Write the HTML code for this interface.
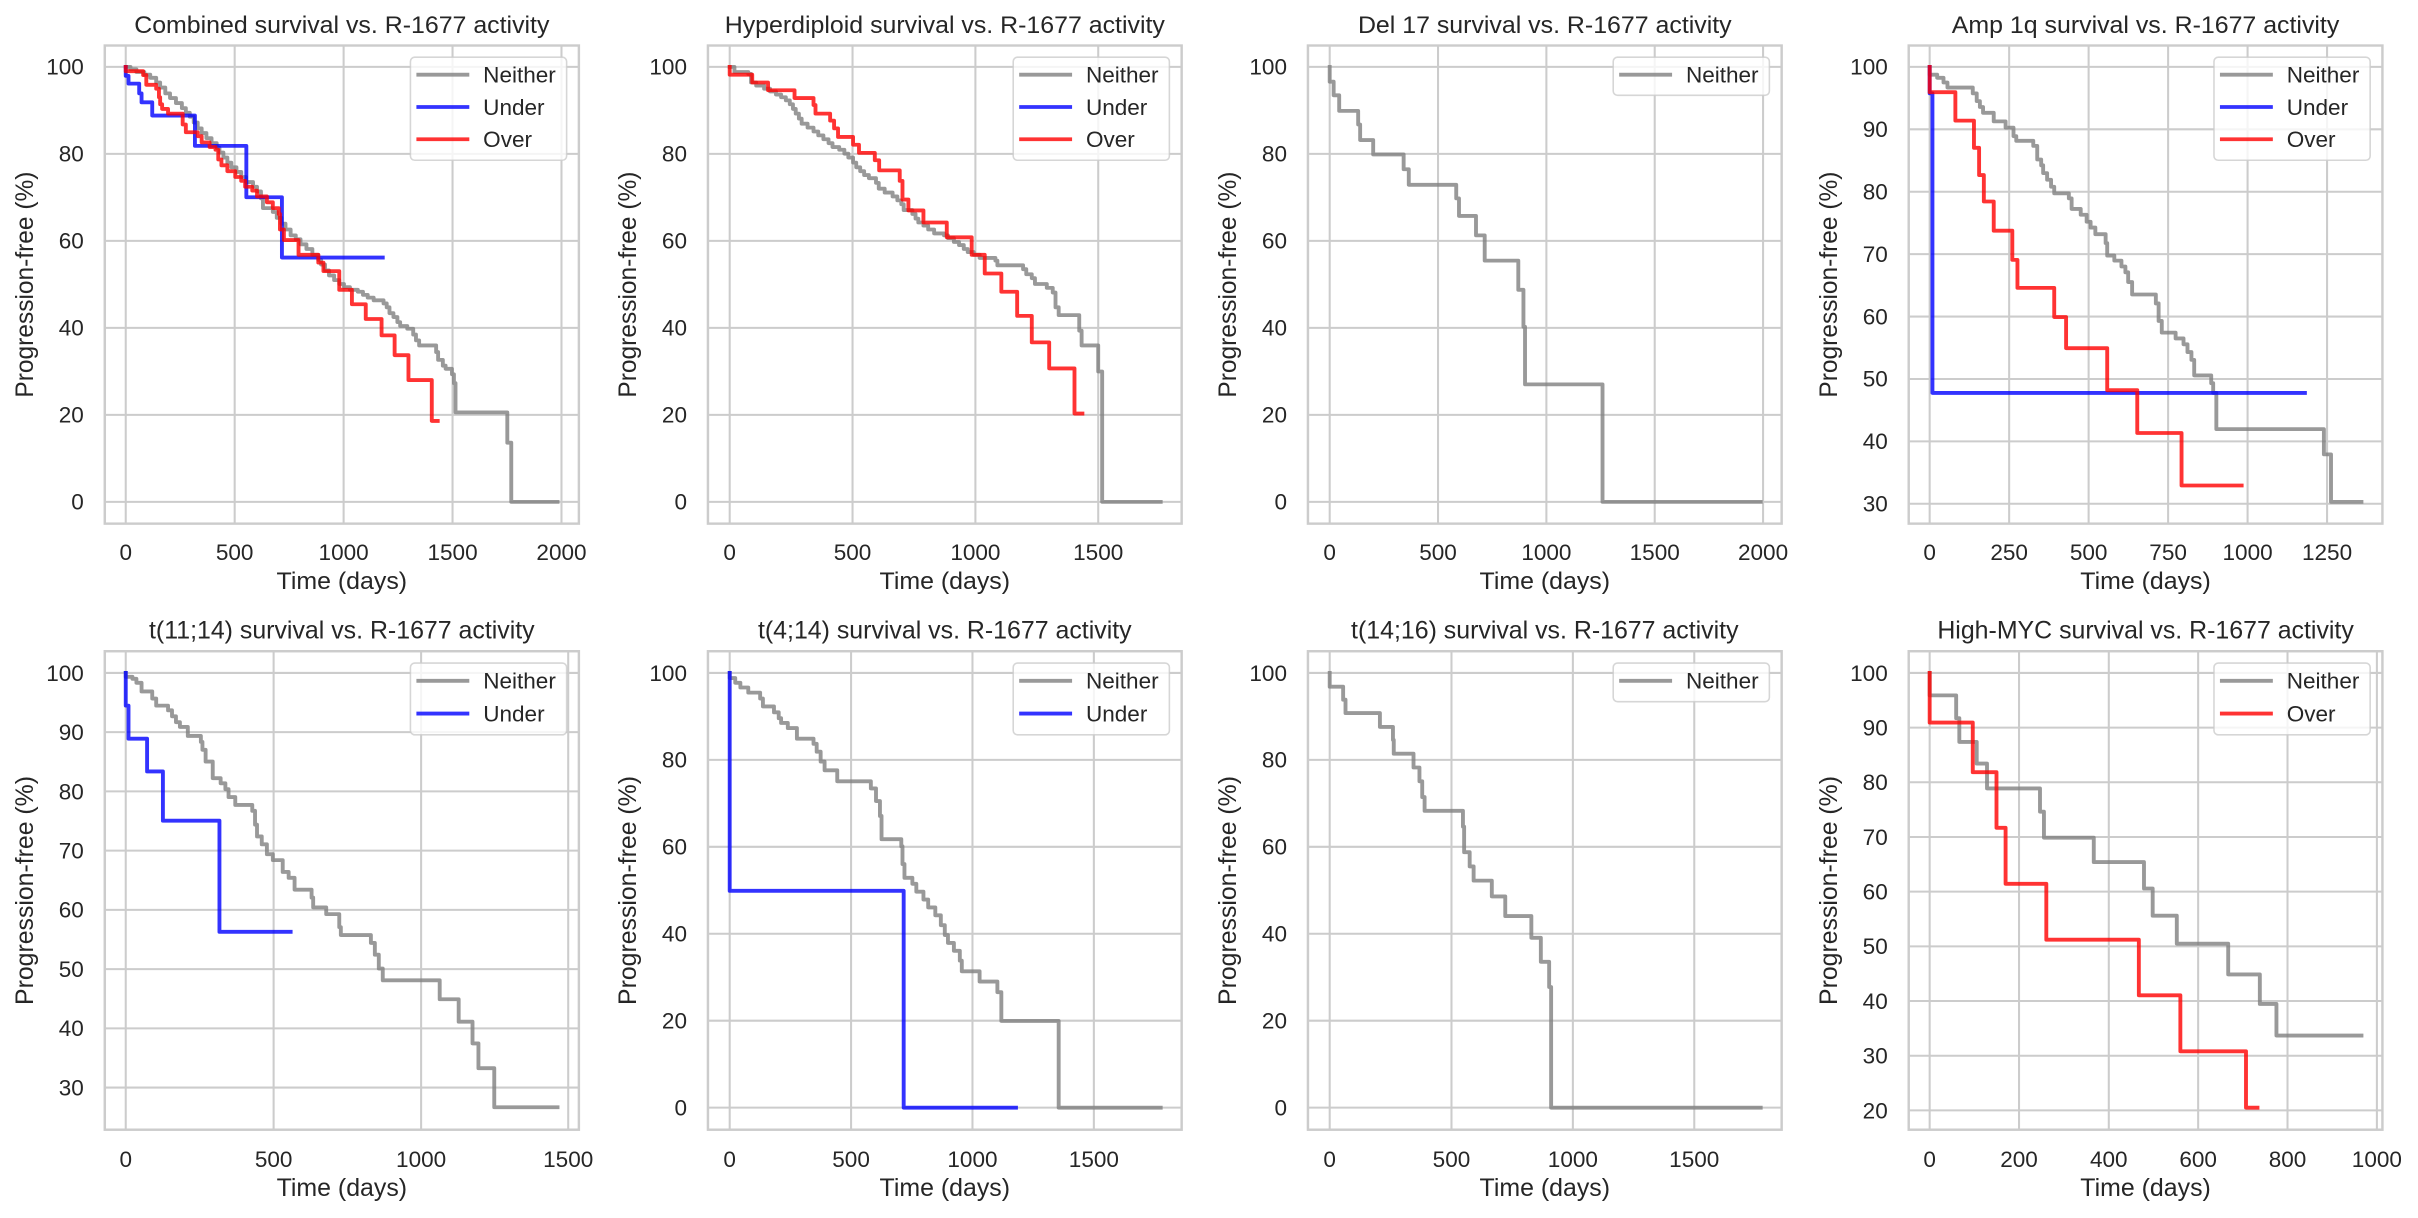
<!DOCTYPE html>
<html><head><meta charset="utf-8">
<style>
html,body{margin:0;padding:0;background:#fff;}
svg{display:block;}
text{font-family:"Liberation Sans",Arial,sans-serif;fill:#262626;}
.tk{font-size:57px;}
.lg{font-size:57px;}
.tt{font-size:63px;}
.lb{font-size:63px;}
.g{stroke:#cccccc;stroke-width:5.2;fill:none;}
.sp{fill:none;stroke:#cccccc;stroke-width:6.2;}
.n,.u,.o{fill:none;stroke-width:9.8;stroke-linejoin:round;stroke-linecap:square;stroke-opacity:0.8;}
.n{stroke:#808080;}
.u{stroke:#0000ff;}
.o{stroke:#ff0000;}
.lf{fill:#fff;fill-opacity:0.8;stroke:#cccccc;stroke-opacity:0.8;stroke-width:4;}
.xt{text-anchor:middle;}
.yt{text-anchor:end;}
.mid{text-anchor:middle;}
</style></head>
<body>
<svg width="2418" height="1218" viewBox="0 0 2418 1218" xmlns="http://www.w3.org/2000/svg">
<rect width="2418" height="1218" fill="#fff"/>

<!-- Panel 1 -->
<g transform="translate(0,0) scale(0.39541,0.38903)">
<path class="g" d="M318,117V1346M593.5,117V1346M869,117V1346M1144.5,117V1346M1420,117V1346M265,172H1464M265,395.6H1464M265,619.2H1464M265,842.8H1464M265,1066.4H1464M265,1290H1464"/>
<path class="n" d="M318,172 H330 V178 H345 V185 H365 V192 H380 V200 H395 V212 H405 V225 H418 V240 H430 V252 H445 V265 H460 V278 H470 V290 H480 V300 H490 V315 H500 V330 H510 V342 H522 V355 H535 V368 H548 V380 H555 V392 H565 V405 H575 V418 H585 V430 H598 V442 H610 V455 H622 V468 H640 V480 H650 V492 H660 V510 H665 V535 H690 V545 H700 V560 H712 V575 H722 V590 H735 V605 H748 V615 H760 V628 H775 V640 H790 V655 H805 V668 H812 V680 H822 V695 H832 V708 H845 V720 H858 V730 H870 V738 H885 V745 H905 V750 H918 V758 H930 V765 H945 V772 H970 V780 H978 V790 H985 V805 H995 V815 H1005 V828 H1012 V838 H1030 V845 H1045 V860 H1052 V875 H1060 V888 H1103 V905 H1108 V925 H1120 V940 H1127 V948 H1143 V962 H1148 V985 H1152 V1060 H1283 V1138 H1293 V1290 H1410"/>
<path class="u" d="M318,172 V195 H325 V215 H352 V240 H358 V263 H385 V297 H493 V375 H623 V507 H713 V662 H968"/>
<path class="o" d="M318,172 V183 H362 V193 H370 V218 H395 V228 H402 V250 H405 V268 H410 V280 H425 V292 H462 V320 H470 V340 H500 V350 H510 V366 H530 V378 H545 V385 H552 V410 H560 V425 H575 V440 H595 V455 H610 V465 H620 V480 H638 V490 H650 V505 H675 V520 H690 V535 H705 V550 H708 V590 H718 V617 H755 V655 H805 V675 H818 V697 H858 V745 H890 V782 H925 V820 H965 V862 H998 V913 H1033 V977 H1092 V1082 H1107"/>
<rect class="sp" x="265" y="117" width="1199" height="1229"/>
<rect class="lf" x="1038" y="147" width="395" height="265" rx="11"/>
<path class="n" d="M1058,192H1182"/><path class="u" d="M1058,275H1182"/><path class="o" d="M1058,358H1182"/>
<text class="lg" x="1222" y="212">Neither</text><text class="lg" x="1222" y="295">Under</text><text class="lg" x="1222" y="378">Over</text>
<text class="tk xt" x="318" y="1440">0</text><text class="tk xt" x="593.5" y="1440">500</text><text class="tk xt" x="869" y="1440">1000</text><text class="tk xt" x="1144.5" y="1440">1500</text><text class="tk xt" x="1420" y="1440">2000</text>
<text class="tk yt" x="212" y="192">100</text><text class="tk yt" x="212" y="415.6">80</text><text class="tk yt" x="212" y="639.2">60</text><text class="tk yt" x="212" y="862.8">40</text><text class="tk yt" x="212" y="1086.4">20</text><text class="tk yt" x="212" y="1310">0</text>
<text class="tt mid" x="864.5" y="85">Combined survival vs. R-1677 activity</text>
<text class="lb mid" x="864.5" y="1514">Time (days)</text>
<text class="lb mid" transform="translate(83,731.5) rotate(-90)">Progression-free (%)</text>
</g>

<!-- Panel 2 -->
<g transform="translate(600,0) scale(0.39541,0.38903)">
<path class="g" d="M328,117V1346M638.7,117V1346M949.4,117V1346M1260,117V1346M273,172H1471M273,395.6H1471M273,619.2H1471M273,842.8H1471M273,1066.4H1471M273,1290H1471"/>
<path class="n" d="M328,172 H340 V185 H375 V190 H382 V212 H395 V220 H415 V228 H430 V235 H445 V243 H458 V250 H470 V258 H480 V268 H488 V280 H495 V292 H503 V305 H510 V318 H525 V328 H540 V338 H552 V348 H565 V358 H578 V368 H588 V378 H605 V385 H618 V395 H628 V405 H640 V418 H648 V430 H658 V440 H668 V450 H680 V458 H698 V470 H705 V485 H720 V495 H740 V505 H752 V515 H762 V525 H768 V540 H790 V550 H798 V562 H805 V572 H818 V580 H830 V590 H845 V600 H870 V605 H880 V612 H895 V622 H908 V630 H920 V640 H930 V648 H945 V655 H960 V663 H1000 V670 H1005 V682 H1070 V692 H1078 V705 H1092 V715 H1100 V730 H1130 V740 H1145 V752 H1152 V790 H1160 V810 H1212 V850 H1218 V888 H1260 V955 H1270 V1290 H1418"/>
<path class="o" d="M328,172 V192 H385 V212 H425 V232 H492 V252 H540 V270 H545 V292 H582 V310 H592 V330 H602 V352 H640 V372 H655 V393 H695 V412 H706 V438 H758 V465 H765 V513 H780 V541 H818 V572 H877 V610 H940 V655 H973 V703 H1015 V750 H1055 V812 H1092 V880 H1136 V947 H1200 V1063 H1220"/>
<rect class="sp" x="273" y="117" width="1198" height="1229"/>
<rect class="lf" x="1045" y="147" width="395" height="265" rx="11"/>
<path class="n" d="M1065,192H1189"/><path class="u" d="M1065,275H1189"/><path class="o" d="M1065,358H1189"/>
<text class="lg" x="1229" y="212">Neither</text><text class="lg" x="1229" y="295">Under</text><text class="lg" x="1229" y="378">Over</text>
<text class="tk xt" x="328" y="1440">0</text><text class="tk xt" x="638.7" y="1440">500</text><text class="tk xt" x="949.4" y="1440">1000</text><text class="tk xt" x="1260" y="1440">1500</text>
<text class="tk yt" x="220" y="192">100</text><text class="tk yt" x="220" y="415.6">80</text><text class="tk yt" x="220" y="639.2">60</text><text class="tk yt" x="220" y="862.8">40</text><text class="tk yt" x="220" y="1086.4">20</text><text class="tk yt" x="220" y="1310">0</text>
<text class="tt mid" x="872" y="85">Hyperdiploid survival vs. R-1677 activity</text>
<text class="lb mid" x="872" y="1514">Time (days)</text>
<text class="lb mid" transform="translate(91,731.5) rotate(-90)">Progression-free (%)</text>
</g>

<!-- Panel 3 -->
<g transform="translate(1200,0) scale(0.39541,0.38903)">
<path class="g" d="M328,117V1346M602,117V1346M876,117V1346M1150,117V1346M1424,117V1346M273,172H1471M273,395.6H1471M273,619.2H1471M273,842.8H1471M273,1066.4H1471M273,1290H1471"/>
<path class="n" d="M328,172 V210 H338 V245 H352 V285 H400 V320 H405 V360 H438 V397 H515 V435 H528 V475 H648 V510 H655 V555 H698 V605 H720 V670 H805 V745 H818 V840 H822 V988 H1018 V1290 H1418"/>
<rect class="sp" x="273" y="117" width="1198" height="1229"/>
<rect class="lf" x="1045" y="147" width="395" height="98" rx="11"/>
<path class="n" d="M1065,192H1189"/>
<text class="lg" x="1229" y="212">Neither</text>
<text class="tk xt" x="328" y="1440">0</text><text class="tk xt" x="602" y="1440">500</text><text class="tk xt" x="876" y="1440">1000</text><text class="tk xt" x="1150" y="1440">1500</text><text class="tk xt" x="1424" y="1440">2000</text>
<text class="tk yt" x="220" y="192">100</text><text class="tk yt" x="220" y="415.6">80</text><text class="tk yt" x="220" y="639.2">60</text><text class="tk yt" x="220" y="862.8">40</text><text class="tk yt" x="220" y="1086.4">20</text><text class="tk yt" x="220" y="1310">0</text>
<text class="tt mid" x="872" y="85">Del 17 survival vs. R-1677 activity</text>
<text class="lb mid" x="872" y="1514">Time (days)</text>
<text class="lb mid" transform="translate(91,731.5) rotate(-90)">Progression-free (%)</text>
</g>

<!-- Panel 4 -->
<g transform="translate(1798,0) scale(0.39541,0.38903)">
<path class="g" d="M333,117V1346M534,117V1346M735,117V1346M936,117V1346M1137,117V1346M1338,117V1346M280,172H1478M280,332.4H1478M280,492.9H1478M280,653.3H1478M280,813.7H1478M280,974.1H1478M280,1134.6H1478M280,1295H1478"/>
<path class="n" d="M333,172 V192 H352 V200 H368 V212 H378 V225 H442 V240 H452 V260 H460 V275 H468 V290 H495 V312 H525 V328 H545 V350 H552 V362 H595 V375 H605 V410 H615 V425 H620 V445 H630 V462 H640 V480 H648 V497 H685 V510 H692 V537 H715 V552 H730 V570 H740 V585 H752 V602 H778 V625 H782 V657 H800 V670 H818 V685 H828 V700 H835 V725 H845 V757 H905 V780 H912 V825 H920 V855 H955 V870 H975 V885 H985 V905 H995 V925 H1002 V965 H1045 V985 H1050 V1010 H1058 V1103 H1330 V1168 H1348 V1290 H1425"/>
<path class="u" d="M333,172 V240 H340 V1010 H1282"/>
<path class="o" d="M333,172 V237 H398 V310 H445 V380 H458 V450 H470 V518 H495 V593 H542 V668 H555 V740 H648 V815 H678 V895 H782 V1003 H858 V1113 H970 V1248 H1122"/>
<rect class="sp" x="280" y="117" width="1198" height="1229"/>
<rect class="lf" x="1052" y="147" width="395" height="265" rx="11"/>
<path class="n" d="M1072,192H1196"/><path class="u" d="M1072,275H1196"/><path class="o" d="M1072,358H1196"/>
<text class="lg" x="1236" y="212">Neither</text><text class="lg" x="1236" y="295">Under</text><text class="lg" x="1236" y="378">Over</text>
<text class="tk xt" x="333" y="1440">0</text><text class="tk xt" x="534" y="1440">250</text><text class="tk xt" x="735" y="1440">500</text><text class="tk xt" x="936" y="1440">750</text><text class="tk xt" x="1137" y="1440">1000</text><text class="tk xt" x="1338" y="1440">1250</text>
<text class="tk yt" x="227" y="192">100</text><text class="tk yt" x="227" y="352.4">90</text><text class="tk yt" x="227" y="512.9">80</text><text class="tk yt" x="227" y="673.3">70</text><text class="tk yt" x="227" y="833.7">60</text><text class="tk yt" x="227" y="994.1">50</text><text class="tk yt" x="227" y="1154.6">40</text><text class="tk yt" x="227" y="1315">30</text>
<text class="tt mid" x="879" y="85">Amp 1q survival vs. R-1677 activity</text>
<text class="lb mid" x="879" y="1514">Time (days)</text>
<text class="lb mid" transform="translate(98,731.5) rotate(-90)">Progression-free (%)</text>
</g>

<!-- Panel 5 -->
<g transform="translate(0,600) scale(0.39541,0.39413)">
<path class="g" d="M318,130V1344M692,130V1344M1065,130V1344M1437,130V1344M265,185H1464M265,335.3H1464M265,485.6H1464M265,635.9H1464M265,786.2H1464M265,936.5H1464M265,1086.8H1464M265,1237.1H1464"/>
<path class="n" d="M318,185 V195 H335 V200 H345 V210 H358 V232 H385 V250 H395 V268 H425 V280 H435 V295 H445 V310 H455 V322 H475 V345 H508 V360 H512 V380 H520 V410 H538 V452 H558 V465 H570 V480 H578 V500 H595 V520 H638 V535 H645 V570 H650 V600 H662 V620 H675 V645 H690 V660 H715 V690 H730 V705 H745 V735 H788 V755 H792 V780 H825 V797 H858 V830 H862 V850 H938 V870 H948 V900 H958 V935 H968 V965 H1112 V1013 H1160 V1070 H1195 V1125 H1210 V1188 H1250 V1287 H1410"/>
<path class="u" d="M318,185 V268 H325 V352 H372 V435 H412 V560 H555 V842 H735"/>
<rect class="sp" x="265" y="130" width="1199" height="1214"/>
<rect class="lf" x="1038" y="160" width="395" height="182" rx="11"/>
<path class="n" d="M1058,205H1182"/><path class="u" d="M1058,288H1182"/>
<text class="lg" x="1222" y="225">Neither</text><text class="lg" x="1222" y="308">Under</text>
<text class="tk xt" x="318" y="1438">0</text><text class="tk xt" x="692" y="1438">500</text><text class="tk xt" x="1065" y="1438">1000</text><text class="tk xt" x="1437" y="1438">1500</text>
<text class="tk yt" x="212" y="205">100</text><text class="tk yt" x="212" y="355.3">90</text><text class="tk yt" x="212" y="505.6">80</text><text class="tk yt" x="212" y="655.9">70</text><text class="tk yt" x="212" y="806.2">60</text><text class="tk yt" x="212" y="956.5">50</text><text class="tk yt" x="212" y="1106.8">40</text><text class="tk yt" x="212" y="1257.1">30</text>
<text class="tt mid" x="864.5" y="98">t(11;14) survival vs. R-1677 activity</text>
<text class="lb mid" x="864.5" y="1512">Time (days)</text>
<text class="lb mid" transform="translate(83,737) rotate(-90)">Progression-free (%)</text>
</g>

<!-- Panel 6 -->
<g transform="translate(600,600) scale(0.39541,0.39413)">
<path class="g" d="M328,130V1344M635,130V1344M942,130V1344M1249,130V1344M273,185H1471M273,405.6H1471M273,626.2H1471M273,846.8H1471M273,1067.4H1471M273,1288H1471"/>
<path class="n" d="M328,185 V198 H342 V210 H355 V222 H375 V235 H405 V250 H412 V270 H440 V285 H452 V300 H458 V312 H475 V325 H498 V352 H540 V365 H548 V385 H558 V410 H568 V432 H600 V460 H685 V478 H698 V510 H708 V548 H712 V607 H762 V625 H765 V670 H770 V705 H790 V720 H800 V740 H818 V760 H830 V780 H848 V800 H862 V825 H872 V850 H880 V870 H895 V890 H910 V915 H915 V942 H960 V968 H1005 V995 H1015 V1068 H1160 V1288 H1418"/>
<path class="u" d="M328,185 V738 H768 V1288 H1052"/>
<rect class="sp" x="273" y="130" width="1198" height="1214"/>
<rect class="lf" x="1045" y="160" width="395" height="182" rx="11"/>
<path class="n" d="M1065,205H1189"/><path class="u" d="M1065,288H1189"/>
<text class="lg" x="1229" y="225">Neither</text><text class="lg" x="1229" y="308">Under</text>
<text class="tk xt" x="328" y="1438">0</text><text class="tk xt" x="635" y="1438">500</text><text class="tk xt" x="942" y="1438">1000</text><text class="tk xt" x="1249" y="1438">1500</text>
<text class="tk yt" x="220" y="205">100</text><text class="tk yt" x="220" y="425.6">80</text><text class="tk yt" x="220" y="646.2">60</text><text class="tk yt" x="220" y="866.8">40</text><text class="tk yt" x="220" y="1087.4">20</text><text class="tk yt" x="220" y="1308">0</text>
<text class="tt mid" x="872" y="98">t(4;14) survival vs. R-1677 activity</text>
<text class="lb mid" x="872" y="1512">Time (days)</text>
<text class="lb mid" transform="translate(91,737) rotate(-90)">Progression-free (%)</text>
</g>

<!-- Panel 7 -->
<g transform="translate(1200,600) scale(0.39541,0.39413)">
<path class="g" d="M328,130V1344M636,130V1344M943,130V1344M1250,130V1344M273,185H1471M273,405.6H1471M273,626.2H1471M273,846.8H1471M273,1067.4H1471M273,1288H1471"/>
<path class="n" d="M328,185 V220 H362 V253 H368 V287 H455 V322 H488 V355 H490 V390 H540 V425 H555 V460 H562 V500 H568 V535 H665 V575 H668 V640 H682 V676 H692 V712 H738 V752 H772 V802 H838 V857 H862 V918 H883 V982 H888 V1288 H1418"/>
<rect class="sp" x="273" y="130" width="1198" height="1214"/>
<rect class="lf" x="1045" y="160" width="395" height="98" rx="11"/>
<path class="n" d="M1065,205H1189"/>
<text class="lg" x="1229" y="225">Neither</text>
<text class="tk xt" x="328" y="1438">0</text><text class="tk xt" x="636" y="1438">500</text><text class="tk xt" x="943" y="1438">1000</text><text class="tk xt" x="1250" y="1438">1500</text>
<text class="tk yt" x="220" y="205">100</text><text class="tk yt" x="220" y="425.6">80</text><text class="tk yt" x="220" y="646.2">60</text><text class="tk yt" x="220" y="866.8">40</text><text class="tk yt" x="220" y="1087.4">20</text><text class="tk yt" x="220" y="1308">0</text>
<text class="tt mid" x="872" y="98">t(14;16) survival vs. R-1677 activity</text>
<text class="lb mid" x="872" y="1512">Time (days)</text>
<text class="lb mid" transform="translate(91,737) rotate(-90)">Progression-free (%)</text>
</g>

<!-- Panel 8 -->
<g transform="translate(1798,600) scale(0.39541,0.39413)">
<path class="g" d="M333,130V1344M559,130V1344M786,130V1344M1012,130V1344M1238,130V1344M1464,130V1344M280,185H1478M280,323.75H1478M280,462.5H1478M280,601.25H1478M280,740H1478M280,878.75H1478M280,1017.5H1478M280,1156.25H1478M280,1295H1478"/>
<path class="n" d="M333,185 V242 H400 V300 H408 V360 H452 V415 H478 V478 H612 V537 H622 V603 H748 V665 H875 V732 H897 V801 H958 V872 H1088 V950 H1168 V1025 H1210 V1105 H1425"/>
<path class="o" d="M333,185 V311 H442 V437 H502 V578 H525 V720 H628 V862 H862 V1003 H967 V1145 H1133 V1288 H1162"/>
<rect class="sp" x="280" y="130" width="1198" height="1214"/>
<rect class="lf" x="1052" y="160" width="395" height="182" rx="11"/>
<path class="n" d="M1072,205H1196"/><path class="o" d="M1072,288H1196"/>
<text class="lg" x="1236" y="225">Neither</text><text class="lg" x="1236" y="308">Over</text>
<text class="tk xt" x="333" y="1438">0</text><text class="tk xt" x="559" y="1438">200</text><text class="tk xt" x="786" y="1438">400</text><text class="tk xt" x="1012" y="1438">600</text><text class="tk xt" x="1238" y="1438">800</text><text class="tk xt" x="1464" y="1438">1000</text>
<text class="tk yt" x="227" y="205">100</text><text class="tk yt" x="227" y="343.75">90</text><text class="tk yt" x="227" y="482.5">80</text><text class="tk yt" x="227" y="621.25">70</text><text class="tk yt" x="227" y="760">60</text><text class="tk yt" x="227" y="898.75">50</text><text class="tk yt" x="227" y="1037.5">40</text><text class="tk yt" x="227" y="1176.25">30</text><text class="tk yt" x="227" y="1315">20</text>
<text class="tt mid" x="879" y="98">High-MYC survival vs. R-1677 activity</text>
<text class="lb mid" x="879" y="1512">Time (days)</text>
<text class="lb mid" transform="translate(98,737) rotate(-90)">Progression-free (%)</text>
</g>
</svg>
</body></html>
